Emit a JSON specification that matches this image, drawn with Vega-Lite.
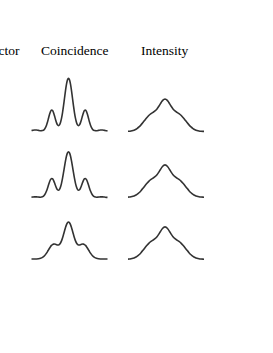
{
  "$schema": "https://vega.github.io/schema/vega-lite/v6.json",
  "width": 273,
  "height": 353,
  "autosize": {"type": "fit", "contains": "padding"},
  "padding": 0,
  "background": "white",
  "config": {"view": {"stroke": null}},
  "datasets": {
    "coincidence1": [
      {"delay": -37, "signal": 0.41}, {"delay": -36, "signal": 0.61}, {"delay": -34, "signal": 0.95}, {"delay": -32, "signal": 0.95},
      {"delay": -30, "signal": 0.61}, {"delay": -28, "signal": 0.31}, {"delay": -26, "signal": 0.47}, {"delay": -24, "signal": 1.83},
      {"delay": -22, "signal": 5.78}, {"delay": -21, "signal": 8.98}, {"delay": -20, "signal": 12.74}, {"delay": -19, "signal": 16.47},
      {"delay": -18, "signal": 19.43}, {"delay": -17, "signal": 20.91}, {"delay": -16, "signal": 20.53}, {"delay": -15, "signal": 18.39},
      {"delay": -14, "signal": 15.18}, {"delay": -13, "signal": 11.55}, {"delay": -12, "signal": 8.35}, {"delay": -11, "signal": 6.17},
      {"delay": -10, "signal": 5.36}, {"delay": -9, "signal": 6.12}, {"delay": -8, "signal": 8.5}, {"delay": -7, "signal": 12.55},
      {"delay": -6, "signal": 18.17}, {"delay": -5, "signal": 25.09}, {"delay": -4, "signal": 32.74}, {"delay": -3, "signal": 40.32},
      {"delay": -2, "signal": 46.79}, {"delay": -1, "signal": 51.16}, {"delay": 0, "signal": 52.7},
      {"delay": 1, "signal": 51.16}, {"delay": 2, "signal": 46.79}, {"delay": 3, "signal": 40.32}, {"delay": 4, "signal": 32.74},
      {"delay": 5, "signal": 25.09}, {"delay": 6, "signal": 18.17}, {"delay": 7, "signal": 12.55}, {"delay": 8, "signal": 8.5},
      {"delay": 9, "signal": 6.12}, {"delay": 10, "signal": 5.36}, {"delay": 11, "signal": 6.17}, {"delay": 12, "signal": 8.35},
      {"delay": 13, "signal": 11.55}, {"delay": 14, "signal": 15.18}, {"delay": 15, "signal": 18.39}, {"delay": 16, "signal": 20.53},
      {"delay": 17, "signal": 20.91}, {"delay": 18, "signal": 19.43}, {"delay": 19, "signal": 16.47}, {"delay": 20, "signal": 12.74},
      {"delay": 21, "signal": 8.98}, {"delay": 22, "signal": 5.78}, {"delay": 24, "signal": 1.83}, {"delay": 26, "signal": 0.47},
      {"delay": 28, "signal": 0.31}, {"delay": 30, "signal": 0.61}, {"delay": 32, "signal": 0.95}, {"delay": 34, "signal": 0.95},
      {"delay": 36, "signal": 0.61}, {"delay": 38, "signal": 0.25}, {"delay": 39, "signal": 0.14}
    ],
    "coincidence2": [
      {"delay": -37, "signal": 0.28}, {"delay": -36, "signal": 0.42}, {"delay": -34, "signal": 0.66}, {"delay": -32, "signal": 0.66},
      {"delay": -30, "signal": 0.44}, {"delay": -28, "signal": 0.31}, {"delay": -26, "signal": 0.72}, {"delay": -24, "signal": 2.43},
      {"delay": -22, "signal": 6.43}, {"delay": -21, "signal": 9.31}, {"delay": -20, "signal": 12.48}, {"delay": -19, "signal": 15.49},
      {"delay": -18, "signal": 17.8}, {"delay": -17, "signal": 18.93}, {"delay": -16, "signal": 18.72}, {"delay": -15, "signal": 17.18},
      {"delay": -14, "signal": 14.7}, {"delay": -13, "signal": 11.91}, {"delay": -12, "signal": 9.41}, {"delay": -11, "signal": 7.73},
      {"delay": -10, "signal": 7.24}, {"delay": -9, "signal": 8.13}, {"delay": -8, "signal": 10.45}, {"delay": -7, "signal": 14.16},
      {"delay": -6, "signal": 19.06}, {"delay": -5, "signal": 24.8}, {"delay": -4, "signal": 30.85}, {"delay": -3, "signal": 36.67},
      {"delay": -2, "signal": 41.49}, {"delay": -1, "signal": 44.68}, {"delay": 0, "signal": 45.8},
      {"delay": 1, "signal": 44.68}, {"delay": 2, "signal": 41.49}, {"delay": 3, "signal": 36.67}, {"delay": 4, "signal": 30.85},
      {"delay": 5, "signal": 24.8}, {"delay": 6, "signal": 19.06}, {"delay": 7, "signal": 14.16}, {"delay": 8, "signal": 10.45},
      {"delay": 9, "signal": 8.13}, {"delay": 10, "signal": 7.24}, {"delay": 11, "signal": 7.73}, {"delay": 12, "signal": 9.41},
      {"delay": 13, "signal": 11.91}, {"delay": 14, "signal": 14.7}, {"delay": 15, "signal": 17.18}, {"delay": 16, "signal": 18.72},
      {"delay": 17, "signal": 18.93}, {"delay": 18, "signal": 17.8}, {"delay": 19, "signal": 15.49}, {"delay": 20, "signal": 12.48},
      {"delay": 21, "signal": 9.31}, {"delay": 22, "signal": 6.43}, {"delay": 24, "signal": 2.43}, {"delay": 26, "signal": 0.72},
      {"delay": 28, "signal": 0.31}, {"delay": 30, "signal": 0.44}, {"delay": 32, "signal": 0.66}, {"delay": 34, "signal": 0.66},
      {"delay": 36, "signal": 0.42}, {"delay": 38, "signal": 0.17}, {"delay": 39, "signal": 0.1}
    ],
    "coincidence3": [
      {"delay": -37, "signal": 0}, {"delay": -36, "signal": 0}, {"delay": -34, "signal": 0.02}, {"delay": -32, "signal": 0.07},
      {"delay": -30, "signal": 0.23}, {"delay": -28, "signal": 0.64}, {"delay": -26, "signal": 1.55}, {"delay": -24, "signal": 3.24},
      {"delay": -22, "signal": 5.86}, {"delay": -21, "signal": 7.45}, {"delay": -20, "signal": 9.13}, {"delay": -19, "signal": 10.79},
      {"delay": -18, "signal": 12.34}, {"delay": -17, "signal": 13.58}, {"delay": -16, "signal": 14.45}, {"delay": -15, "signal": 14.91},
      {"delay": -14, "signal": 14.95}, {"delay": -13, "signal": 14.71}, {"delay": -12, "signal": 14.33}, {"delay": -11, "signal": 14.03},
      {"delay": -10, "signal": 14.07}, {"delay": -9, "signal": 14.67}, {"delay": -8, "signal": 16.01}, {"delay": -7, "signal": 18.14},
      {"delay": -6, "signal": 21.01}, {"delay": -5, "signal": 24.42}, {"delay": -4, "signal": 28.07}, {"delay": -3, "signal": 31.54},
      {"delay": -2, "signal": 34.4}, {"delay": -1, "signal": 36.3}, {"delay": 0, "signal": 36.95},
      {"delay": 1, "signal": 36.3}, {"delay": 2, "signal": 34.4}, {"delay": 3, "signal": 31.54}, {"delay": 4, "signal": 28.07},
      {"delay": 5, "signal": 24.42}, {"delay": 6, "signal": 21.01}, {"delay": 7, "signal": 18.14}, {"delay": 8, "signal": 16.01},
      {"delay": 9, "signal": 14.67}, {"delay": 10, "signal": 14.07}, {"delay": 11, "signal": 14.03}, {"delay": 12, "signal": 14.33},
      {"delay": 13, "signal": 14.71}, {"delay": 14, "signal": 14.95}, {"delay": 15, "signal": 14.91}, {"delay": 16, "signal": 14.45},
      {"delay": 17, "signal": 13.58}, {"delay": 18, "signal": 12.34}, {"delay": 19, "signal": 10.79}, {"delay": 20, "signal": 9.13},
      {"delay": 21, "signal": 7.45}, {"delay": 22, "signal": 5.86}, {"delay": 24, "signal": 3.24}, {"delay": 26, "signal": 1.55},
      {"delay": 28, "signal": 0.64}, {"delay": 30, "signal": 0.23}, {"delay": 32, "signal": 0.07}, {"delay": 34, "signal": 0.02},
      {"delay": 36, "signal": 0}, {"delay": 38, "signal": 0}, {"delay": 39, "signal": 0}
    ],
    "intensity1": [
      {"delay": -37, "signal": 0.19}, {"delay": -36, "signal": 0.27}, {"delay": -34, "signal": 0.54}, {"delay": -32, "signal": 1.01},
      {"delay": -30, "signal": 1.78}, {"delay": -28, "signal": 2.93}, {"delay": -26, "signal": 4.54}, {"delay": -24, "signal": 6.61},
      {"delay": -22, "signal": 9.03}, {"delay": -20, "signal": 11.62}, {"delay": -18, "signal": 14.09}, {"delay": -16, "signal": 16.21},
      {"delay": -14, "signal": 17.84}, {"delay": -12, "signal": 19.16}, {"delay": -10, "signal": 20.58}, {"delay": -8, "signal": 22.61},
      {"delay": -7, "signal": 23.95}, {"delay": -6, "signal": 25.45}, {"delay": -5, "signal": 27.07}, {"delay": -4, "signal": 28.7},
      {"delay": -3, "signal": 30.16}, {"delay": -2, "signal": 31.35}, {"delay": -1, "signal": 32.12}, {"delay": 0, "signal": 32.38},
      {"delay": 1, "signal": 32.12}, {"delay": 2, "signal": 31.35}, {"delay": 3, "signal": 30.16}, {"delay": 4, "signal": 28.7},
      {"delay": 5, "signal": 27.07}, {"delay": 6, "signal": 25.45}, {"delay": 7, "signal": 23.95}, {"delay": 8, "signal": 22.61},
      {"delay": 10, "signal": 20.58}, {"delay": 12, "signal": 19.16}, {"delay": 14, "signal": 17.84}, {"delay": 16, "signal": 16.21},
      {"delay": 18, "signal": 14.09}, {"delay": 20, "signal": 11.62}, {"delay": 22, "signal": 9.03}, {"delay": 24, "signal": 6.61},
      {"delay": 26, "signal": 4.54}, {"delay": 28, "signal": 2.93}, {"delay": 30, "signal": 1.78}, {"delay": 32, "signal": 1.01},
      {"delay": 34, "signal": 0.54}, {"delay": 36, "signal": 0.27}, {"delay": 38, "signal": 0.13}, {"delay": 39, "signal": 0.09}
    ],
    "intensity2": [
      {"delay": -37, "signal": 0.19}, {"delay": -36, "signal": 0.27}, {"delay": -34, "signal": 0.54}, {"delay": -32, "signal": 1.01},
      {"delay": -30, "signal": 1.78}, {"delay": -28, "signal": 2.93}, {"delay": -26, "signal": 4.54}, {"delay": -24, "signal": 6.61},
      {"delay": -22, "signal": 9.03}, {"delay": -20, "signal": 11.62}, {"delay": -18, "signal": 14.09}, {"delay": -16, "signal": 16.21},
      {"delay": -14, "signal": 17.84}, {"delay": -12, "signal": 19.16}, {"delay": -10, "signal": 20.58}, {"delay": -8, "signal": 22.61},
      {"delay": -7, "signal": 23.95}, {"delay": -6, "signal": 25.45}, {"delay": -5, "signal": 27.07}, {"delay": -4, "signal": 28.7},
      {"delay": -3, "signal": 30.16}, {"delay": -2, "signal": 31.35}, {"delay": -1, "signal": 32.12}, {"delay": 0, "signal": 32.38},
      {"delay": 1, "signal": 32.12}, {"delay": 2, "signal": 31.35}, {"delay": 3, "signal": 30.16}, {"delay": 4, "signal": 28.7},
      {"delay": 5, "signal": 27.07}, {"delay": 6, "signal": 25.45}, {"delay": 7, "signal": 23.95}, {"delay": 8, "signal": 22.61},
      {"delay": 10, "signal": 20.58}, {"delay": 12, "signal": 19.16}, {"delay": 14, "signal": 17.84}, {"delay": 16, "signal": 16.21},
      {"delay": 18, "signal": 14.09}, {"delay": 20, "signal": 11.62}, {"delay": 22, "signal": 9.03}, {"delay": 24, "signal": 6.61},
      {"delay": 26, "signal": 4.54}, {"delay": 28, "signal": 2.93}, {"delay": 30, "signal": 1.78}, {"delay": 32, "signal": 1.01},
      {"delay": 34, "signal": 0.54}, {"delay": 36, "signal": 0.27}, {"delay": 38, "signal": 0.13}, {"delay": 39, "signal": 0.09}
    ],
    "intensity3": [
      {"delay": -37, "signal": 0.19}, {"delay": -36, "signal": 0.27}, {"delay": -34, "signal": 0.54}, {"delay": -32, "signal": 1.01},
      {"delay": -30, "signal": 1.78}, {"delay": -28, "signal": 2.93}, {"delay": -26, "signal": 4.54}, {"delay": -24, "signal": 6.61},
      {"delay": -22, "signal": 9.03}, {"delay": -20, "signal": 11.62}, {"delay": -18, "signal": 14.09}, {"delay": -16, "signal": 16.21},
      {"delay": -14, "signal": 17.84}, {"delay": -12, "signal": 19.16}, {"delay": -10, "signal": 20.58}, {"delay": -8, "signal": 22.61},
      {"delay": -7, "signal": 23.95}, {"delay": -6, "signal": 25.45}, {"delay": -5, "signal": 27.07}, {"delay": -4, "signal": 28.7},
      {"delay": -3, "signal": 30.16}, {"delay": -2, "signal": 31.35}, {"delay": -1, "signal": 32.12}, {"delay": 0, "signal": 32.38},
      {"delay": 1, "signal": 32.12}, {"delay": 2, "signal": 31.35}, {"delay": 3, "signal": 30.16}, {"delay": 4, "signal": 28.7},
      {"delay": 5, "signal": 27.07}, {"delay": 6, "signal": 25.45}, {"delay": 7, "signal": 23.95}, {"delay": 8, "signal": 22.61},
      {"delay": 10, "signal": 20.58}, {"delay": 12, "signal": 19.16}, {"delay": 14, "signal": 17.84}, {"delay": 16, "signal": 16.21},
      {"delay": 18, "signal": 14.09}, {"delay": 20, "signal": 11.62}, {"delay": 22, "signal": 9.03}, {"delay": 24, "signal": 6.61},
      {"delay": 26, "signal": 4.54}, {"delay": 28, "signal": 2.93}, {"delay": 30, "signal": 1.78}, {"delay": 32, "signal": 1.01},
      {"delay": 34, "signal": 0.54}, {"delay": 36, "signal": 0.27}, {"delay": 38, "signal": 0.13}, {"delay": 39, "signal": 0.09}
    ],
    "headers": [
      {"label": "Coincidence", "column": 1, "line": 0},
      {"label": "Intensity", "column": 2, "line": 0}
    ],
    "sideHeader": [
      {"label": "Detector", "column": 0, "line": 0}
    ]
  },
  "layer": [
    {
      "data": {"name": "coincidence1"},
      "mark": {"type": "line", "color": "#333333", "strokeWidth": 1.6, "interpolate": "monotone"},
      "encoding": {
        "x": {"field": "delay", "type": "quantitative", "scale": {"domain": [-68.5, 204.5], "nice": false, "zero": false}, "axis": null},
        "y": {"field": "signal", "type": "quantitative", "scale": {"domain": [-222, 131], "nice": false, "zero": false}, "axis": null}
      }
    },
    {
      "data": {"name": "coincidence2"},
      "mark": {"type": "line", "color": "#333333", "strokeWidth": 1.6, "interpolate": "monotone"},
      "encoding": {
        "x": {"field": "delay", "type": "quantitative", "scale": {"domain": [-68.5, 204.5], "nice": false, "zero": false}, "axis": null},
        "y": {"field": "signal", "type": "quantitative", "scale": {"domain": [-155.5, 197.5], "nice": false, "zero": false}, "axis": null}
      }
    },
    {
      "data": {"name": "coincidence3"},
      "mark": {"type": "line", "color": "#333333", "strokeWidth": 1.6, "interpolate": "monotone"},
      "encoding": {
        "x": {"field": "delay", "type": "quantitative", "scale": {"domain": [-68.5, 204.5], "nice": false, "zero": false}, "axis": null},
        "y": {"field": "signal", "type": "quantitative", "scale": {"domain": [-94, 259], "nice": false, "zero": false}, "axis": null}
      }
    },
    {
      "data": {"name": "intensity1"},
      "mark": {"type": "line", "color": "#333333", "strokeWidth": 1.6, "interpolate": "monotone"},
      "encoding": {
        "x": {"field": "delay", "type": "quantitative", "scale": {"domain": [-165, 108], "nice": false, "zero": false}, "axis": null},
        "y": {"field": "signal", "type": "quantitative", "scale": {"domain": [-221.5, 131.5], "nice": false, "zero": false}, "axis": null}
      }
    },
    {
      "data": {"name": "intensity2"},
      "mark": {"type": "line", "color": "#333333", "strokeWidth": 1.6, "interpolate": "monotone"},
      "encoding": {
        "x": {"field": "delay", "type": "quantitative", "scale": {"domain": [-165, 108], "nice": false, "zero": false}, "axis": null},
        "y": {"field": "signal", "type": "quantitative", "scale": {"domain": [-155.7, 197.3], "nice": false, "zero": false}, "axis": null}
      }
    },
    {
      "data": {"name": "intensity3"},
      "mark": {"type": "line", "color": "#333333", "strokeWidth": 1.6, "interpolate": "monotone"},
      "encoding": {
        "x": {"field": "delay", "type": "quantitative", "scale": {"domain": [-165, 108], "nice": false, "zero": false}, "axis": null},
        "y": {"field": "signal", "type": "quantitative", "scale": {"domain": [-93.7, 259.3], "nice": false, "zero": false}, "axis": null}
      }
    },
    {
      "data": {"name": "headers"},
      "mark": {"type": "text", "font": "Liberation Serif", "fontSize": 13.5, "color": "#000000", "align": "center", "baseline": "alphabetic"},
      "encoding": {
        "x": {"field": "column", "type": "quantitative", "scale": {"domain": [0.17, 3.2033], "nice": false, "zero": false}, "axis": null},
        "y": {"field": "line", "type": "quantitative", "scale": {"domain": [-298, 55], "nice": false, "zero": false}, "axis": null},
        "text": {"field": "label", "type": "nominal"}
      }
    },
    {
      "data": {"name": "sideHeader"},
      "mark": {"type": "text", "font": "Liberation Serif", "fontSize": 13.5, "color": "#000000", "align": "right", "baseline": "alphabetic", "clip": true},
      "encoding": {
        "x": {"field": "column", "type": "quantitative", "scale": {"domain": [-0.2167, 2.8167], "nice": false, "zero": false}, "axis": null},
        "y": {"field": "line", "type": "quantitative", "scale": {"domain": [-298, 55], "nice": false, "zero": false}, "axis": null},
        "text": {"field": "label", "type": "nominal"}
      }
    }
  ],
  "resolve": {"scale": {"x": "independent", "y": "independent"}}
}
